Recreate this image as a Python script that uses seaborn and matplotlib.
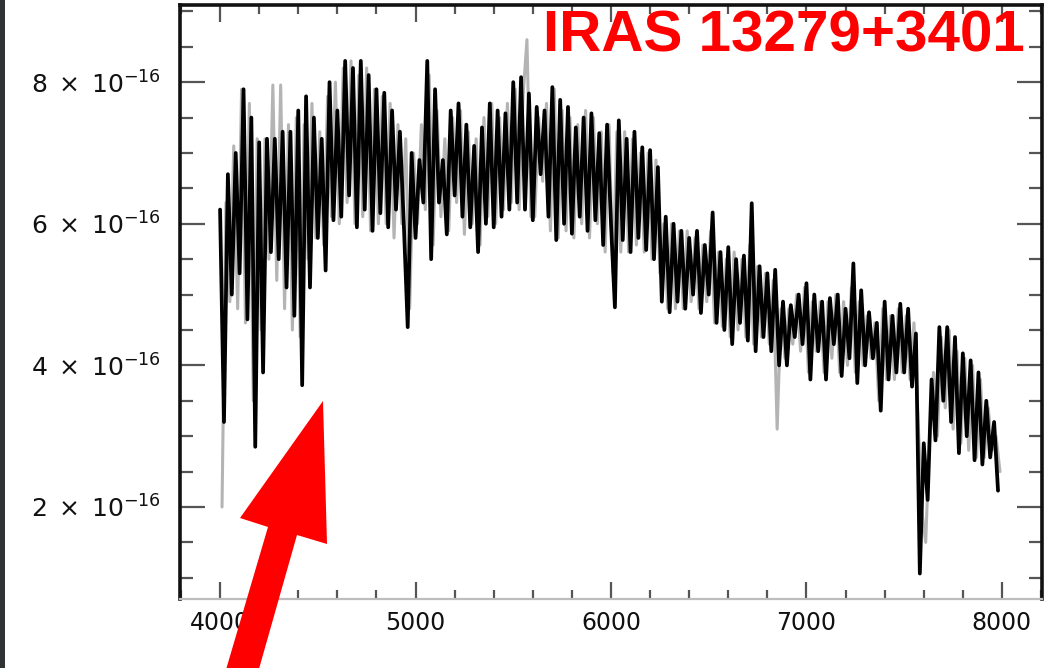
import numpy as np
import pandas as pd
import matplotlib
matplotlib.use("Agg")
import matplotlib.pyplot as plt
import seaborn as sns
from matplotlib.ticker import MultipleLocator, FixedLocator, FixedFormatter
from matplotlib.patches import Polygon, Rectangle

sns.set_theme(style="ticks")
plt.rcParams["font.family"] = ["DejaVu Sans"]
plt.rcParams["mathtext.fontset"] = "dejavusans"

# ---------------- data (flux in units of 1e-16) ----------------
wl_black = np.arange(4000, 8000, 20)
flux_black = [
    6.2, 3.2, 6.7, 5.0, 7.0, 5.3, 7.9, 4.65, 7.5, 2.85,
    7.15, 3.9, 7.2, 5.6, 7.2, 5.5, 7.3, 5.1, 7.3, 4.7,
    7.6, 3.72, 7.8, 5.1, 7.5, 5.8, 7.2, 5.34, 8.0, 6.05,
    7.6, 6.1, 8.3, 6.4, 8.2, 5.95, 8.3, 6.2, 8.1, 5.9,
    7.9, 6.15, 7.85, 5.95, 7.6, 6.2, 7.3, 6.0, 4.54, 7.0,
    5.8, 6.9, 6.3, 8.3, 5.5, 7.9, 6.3, 6.9, 5.85, 7.6,
    6.4, 7.7, 6.1, 7.4, 5.95, 7.1, 5.6, 7.36, 6.0, 7.7,
    5.95, 7.6, 6.1, 7.56, 6.2, 8.0, 6.3, 8.07, 6.2, 7.84,
    6.05, 7.65, 6.7, 7.6, 6.1, 7.93, 5.77, 7.75, 6.0, 7.65,
    5.86, 7.36, 6.1, 7.5, 5.9, 7.56, 6.05, 7.28, 5.7, 7.4,
    6.0, 4.82, 7.46, 5.77, 7.2, 5.6, 7.3, 5.8, 7.08, 5.63,
    7.04, 5.5, 6.8, 4.9, 6.1, 4.75, 6.0, 4.9, 5.9, 4.8,
    5.8, 5.0, 5.9, 4.74, 5.7, 5.0, 6.16, 4.6, 5.6, 4.5,
    5.67, 4.3, 5.5, 4.6, 5.55, 4.35, 6.29, 4.2, 5.4, 4.4,
    5.3, 4.2, 5.35, 4.0, 4.9, 4.0, 4.85, 4.4, 5.0, 4.3,
    5.16, 3.8, 5.0, 4.2, 4.9, 3.8, 4.95, 4.3, 5.0, 3.85,
    4.8, 4.1, 5.44, 3.75, 5.06, 4.0, 4.75, 4.1, 4.6, 3.36,
    4.9, 3.8, 4.7, 3.9, 4.87, 3.9, 4.8, 3.7, 4.45, 1.06,
    2.9, 2.1, 3.8, 2.94, 4.54, 3.5, 4.54, 3.2, 4.4, 2.76,
    4.17, 3.0, 4.07, 2.66, 3.9, 2.6, 3.5, 2.7, 3.2, 2.23,
]

wl_grey = np.arange(4010, 8000, 20)
flux_grey = [
    2.0, 6.3, 4.9, 7.1, 4.8, 7.9, 4.6, 7.7, 3.5, 7.2,
    4.5, 7.2, 5.5, 7.96, 5.2, 7.96, 4.8, 7.4, 4.5, 7.5,
    4.4, 7.4, 5.5, 7.7, 5.8, 7.3, 5.7, 7.8, 6.1, 8.0,
    6.0, 8.2, 6.3, 8.3, 6.0, 8.1, 6.1, 8.2, 5.9, 7.9,
    6.0, 7.8, 6.0, 7.7, 5.8, 7.4, 6.0, 7.2, 4.8, 7.0,
    6.0, 7.4, 6.2, 8.1, 5.7, 7.6, 6.1, 7.2, 5.9, 7.5,
    6.3, 7.6, 5.85, 7.3, 6.0, 7.2, 5.7, 7.5, 6.1, 7.7,
    6.0, 7.5, 6.2, 7.7, 6.3, 7.9, 6.2, 7.8, 8.6, 6.1,
    6.1, 7.5, 6.6, 7.7, 5.9, 7.9, 5.8, 7.6, 5.9, 7.5,
    5.8, 7.4, 6.0, 7.6, 5.8, 7.5, 6.0, 7.3, 5.6, 7.4,
    5.3, 7.3, 5.6, 7.3, 5.6, 7.2, 5.7, 7.0, 5.6, 7.0,
    5.5, 6.9, 5.3, 6.0, 4.8, 6.0, 4.8, 5.9, 4.8, 5.9,
    4.9, 5.8, 4.8, 5.7, 4.9, 5.9, 4.6, 5.6, 4.55, 5.5,
    4.4, 5.6, 4.5, 5.5, 4.4, 5.7, 4.3, 5.4, 4.4, 5.3,
    4.3, 5.2, 3.1, 4.8, 4.1, 4.8, 4.3, 5.0, 4.2, 5.1,
    3.9, 4.9, 4.2, 4.9, 3.9, 4.9, 4.1, 5.0, 3.9, 4.9,
    4.0, 5.1, 3.9, 4.9, 4.0, 4.7, 4.1, 4.6, 3.5, 4.8,
    3.8, 4.7, 3.8, 4.8, 3.9, 4.7, 3.8, 4.6, 3.3, 1.95,
    1.5, 3.0, 3.9, 3.0, 4.4, 3.4, 4.5, 3.1, 4.2, 2.9,
    4.1, 2.8, 4.0, 2.7, 3.8, 2.7, 3.4, 2.8, 3.0, 2.5,
]

x_ticks = [4000, 5000, 6000, 7000, 8000]
x_tick_labels = ["4000", "5000", "6000", "7000", "8000"]
y_ticks = [2e-16, 4e-16, 6e-16, 8e-16]
y_tick_labels = [r"$2\;\times\;10^{-16}$", r"$4\;\times\;10^{-16}$",
                 r"$6\;\times\;10^{-16}$", r"$8\;\times\;10^{-16}$"]
title = "IRAS 13279+3401"

df_black = pd.DataFrame({"wl": wl_black, "flux": np.array(flux_black) * 1e-16})
df_grey = pd.DataFrame({"wl": wl_grey, "flux": np.array(flux_grey) * 1e-16})

# ---------------- figure ----------------
W, H = 1060, 668
fig = plt.figure(figsize=(W / 100, H / 100), dpi=100)
fig.patch.set_facecolor("white")
ax = fig.add_axes([180 / W, 1 - 599 / H, (1042 - 180) / W, (599 - 5) / H])
ax.set_facecolor("white")

sns.lineplot(data=df_grey, x="wl", y="flux", color="#b4b4b4", lw=2.2,
             estimator=None, ax=ax)
sns.lineplot(data=df_black, x="wl", y="flux", color="black", lw=2.7,
             estimator=None, ax=ax)

ax.set_xlim(3795, 8205)
ax.set_ylim(0.70e-16, 9.09e-16)
ax.set_xlabel("")
ax.set_ylabel("")

ax.xaxis.set_major_locator(FixedLocator(x_ticks))
ax.xaxis.set_major_formatter(FixedFormatter(x_tick_labels))
ax.xaxis.set_minor_locator(MultipleLocator(200))
ax.yaxis.set_major_locator(FixedLocator(y_ticks))
ax.yaxis.set_major_formatter(FixedFormatter(y_tick_labels))
ax.yaxis.set_minor_locator(MultipleLocator(0.5e-16))

ax.tick_params(axis="both", which="both", direction="in", top=True, right=True,
               color="#555555", width=1.6)
ax.tick_params(axis="x", which="major", length=12, labelsize=17, pad=9,
               labelcolor="#111111")
ax.tick_params(axis="x", which="minor", length=6.5)
ax.tick_params(axis="y", which="major", length=18, labelsize=18, pad=14,
               labelcolor="#111111")
ax.tick_params(axis="y", which="minor", length=9.5)

for side in ["left", "top", "right"]:
    ax.spines[side].set_color("#111111")
    ax.spines[side].set_linewidth(2.6)
ax.spines["bottom"].set_color("#bdbdbd")
ax.spines["bottom"].set_linewidth(1.6)

# title
fig.text(1025 / W, 1 - 10 / H, title, ha="right", va="top", color="#ff0000",
         fontsize=42, fontweight="bold", family=["Liberation Sans", "DejaVu Sans"])

# red arrow annotation (figure pixel geometry)
arrow_px = [(220, 690), (268, 527), (240, 518), (323, 401),
            (327, 544), (297, 535), (253, 690)]
arrow = Polygon([(x / W, 1 - y / H) for x, y in arrow_px], closed=True,
                transform=fig.transFigure, facecolor="#ff0000",
                edgecolor="none", zorder=10, clip_on=False)
fig.patches.append(arrow)

# dark strip at left edge of screenshot
fig.patches.append(Rectangle((0, 0), 5 / W, 1, transform=fig.transFigure,
                             facecolor="#2e3232", edgecolor="none", zorder=5))

fig.savefig("out.png", dpi=100)
